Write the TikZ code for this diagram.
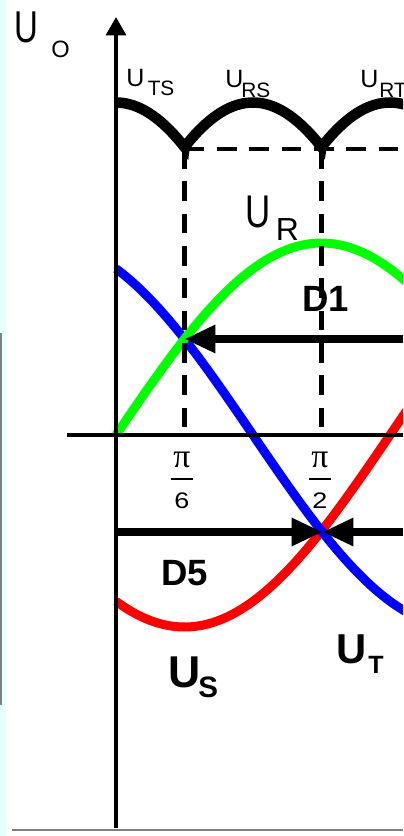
\documentclass[tikz,border=0pt]{standalone}
\usepackage{fontspec}
\setmainfont{Liberation Sans}
\newfontfamily\piface{Liberation Serif}
\usepackage{graphicx}
\usetikzlibrary{arrows.meta}
\definecolor{phasered}{RGB}{255,0,0}
\definecolor{phasegreen}{RGB}{0,255,0}
\definecolor{phaseblue}{RGB}{0,0,255}
\definecolor{framecyan}{RGB}{232,255,255}
\newcommand{\piover}[1]{\vbox{\offinterlineskip\halign{\hfil##\hfil\cr
  {\piface\fontsize{24pt}{24pt}\selectfont π}\cr
  \noalign{\vskip 7.5pt}
  \rule{16.3pt}{1.4pt}\cr
  \noalign{\vskip 9pt}
  \scalebox{1.2}[1]{\fontsize{16pt}{16pt}\selectfont #1}\cr}}}

\begin{document}
\begin{tikzpicture}[x=0.025cm, y=-0.025cm,
    phase/.style={line width=6.4pt, line join=round},
    axisline/.style={line width=2.8pt},
    guide/.style={line width=3pt, dash pattern=on 14pt off 9pt},
    dirarrow/.style={line width=5pt, -{Triangle[length=22pt,width=19pt]}},
    lbl/.style={anchor=base west, inner sep=0pt},
    boldlbl/.style={anchor=base west, inner sep=0pt, font=\bfseries}]
  \useasboundingbox (0,0) rectangle (403,836);
  \fill[white] (0,0) rectangle (403,836);
  \fill[framecyan] (0,0) rectangle (6,836);
  \draw[gray, line width=1.6pt] (1,333) -- (1,705);
  \draw[gray, line width=1.6pt] (12,830) -- (403,830);

  \coordinate (O) at (116,435);
  \coordinate (yTop) at (116,17);
  \coordinate (yBot) at (116,828);
  \coordinate (xLeft) at (67,435);
  \coordinate (xRight) at (403,435);
  \coordinate (p6) at (184.5,435);
  \coordinate (p2) at (321.5,435);
  \coordinate (dip6) at (184.5,149);
  \coordinate (dip2) at (321.5,149);
  \coordinate (dipEnd) at (403,149);
  \coordinate (cross6) at (184.5,339);
  \coordinate (d1Start) at (403,339);
  \coordinate (cross2) at (322.5,532);
  \coordinate (d5Left) at (116,532);
  \coordinate (d5Right) at (403,532);

  \begin{scope}
    \clip (0,0) rectangle (403,836);
    \draw[phase, phasered] plot[domain=0:130, samples=80] ({116+2.2833*\x}, {435-192*sin(\x-120)});
    \draw[phase, phaseblue] plot[domain=0:130, samples=80] ({116+2.2833*\x}, {435-192*sin(\x+120)});
    \draw[phase, phasegreen] plot[domain=0:130, samples=80] ({116+2.2833*\x}, {435-192*sin(\x)});
    \draw[line width=7.5pt, line join=miter]
      plot[domain=0:30, samples=20] ({116+2.2833*\x}, {435-332.5*cos(\x)})
      -- plot[domain=30:90, samples=40] ({116+2.2833*\x}, {435-332.5*cos(\x-60)})
      -- plot[domain=90:130, samples=30] ({116+2.2833*\x}, {435-332.5*cos(\x-120)});
  \end{scope}

  \draw[guide] (dip6) -- (p6);
  \draw[guide] (dip2) -- (p2);
  \draw[guide] (dip6) -- (dipEnd);

  \draw[axisline] (xLeft) -- (xRight);
  \draw[axisline, -{Triangle[length=13pt,width=14pt]}] (yBot) -- (yTop);

  \draw[dirarrow] (d1Start) -- (cross6);
  \draw[dirarrow] (d5Left) -- (cross2);
  \draw[dirarrow] (d5Right) -- (cross2);

  \node[lbl] (uoMain) at (14.5,42) {\fontsize{31.7pt}{31.7pt}\selectfont\scalebox{0.74}[1]{U}};
  \node[lbl] (uoSub) at (51,57) {\fontsize{16.8pt}{16.8pt}\selectfont O};
  \node[lbl] (utsMain) at (126,86) {\fontsize{17.8pt}{17.8pt}\selectfont U};
  \node[lbl] (utsSub) at (147.5,95) {\fontsize{14.8pt}{14.8pt}\selectfont TS};
  \node[lbl] (ursMain) at (225,87) {\fontsize{17.8pt}{17.8pt}\selectfont U};
  \node[lbl] (ursSub) at (241,97) {\fontsize{14.8pt}{14.8pt}\selectfont RS};
  \node[lbl] (urtMain) at (360,87) {\fontsize{17.8pt}{17.8pt}\selectfont U};
  \node[lbl] (urtSub) at (379,97) {\fontsize{14.8pt}{14.8pt}\selectfont RT};
  \node[lbl] (urMain) at (245,227) {\fontsize{32.6pt}{32.6pt}\selectfont\scalebox{0.76}[1]{U}};
  \node[lbl] (urSub) at (275.5,240) {\fontsize{22.7pt}{22.7pt}\selectfont R};

  \node[boldlbl] (dOne) at (302,311) {\fontsize{26pt}{26pt}\selectfont D1};
  \node[boldlbl] (dFive) at (161,585) {\fontsize{26pt}{26pt}\selectfont D5};
  \node[boldlbl] (usMain) at (168,687) {\fontsize{31.7pt}{31.7pt}\selectfont U};
  \node[boldlbl] (usSub) at (198,697) {\fontsize{21pt}{21pt}\selectfont S};
  \node[boldlbl] (utMain) at (336,663) {\fontsize{29.7pt}{29.7pt}\selectfont U};
  \node[boldlbl] (utSub) at (368,673) {\fontsize{17.8pt}{17.8pt}\selectfont T};

  \node[inner sep=0pt] (fracSix) at (182,480) {\piover{6}};
  \node[inner sep=0pt] (fracTwo) at (320,480) {\piover{2}};
\end{tikzpicture}
\end{document}
